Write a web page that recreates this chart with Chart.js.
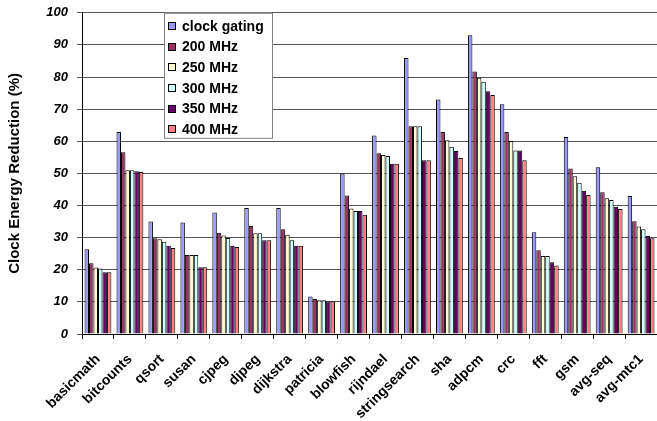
<!DOCTYPE html>
<html>
<head>
<meta charset="utf-8">
<script src="https://cdn.jsdelivr.net/npm/chart.js@4"></script>
<style>
  html, body { margin: 0; padding: 0; background: #fff; overflow: hidden; }
  #wrap { position: relative; width: 665px; height: 425px; margin-top: -4px; }
</style>
</head>
<body>
<div id="wrap"><canvas id="energyChart"></canvas></div>
<script>
// benchmarks on the x axis
const benchmarks = ['basicmath', 'bitcounts', 'qsort', 'susan', 'cjpeg', 'djpeg', 'dijkstra', 'patricia',
  'blowfish', 'rijndael', 'stringsearch', 'sha', 'adpcm', 'crc', 'fft', 'gsm', 'avg-seq', 'avg-mtc1'];

// clock energy reduction (%) per series
const clockGating = [26.4, 62.9, 35.0, 34.7, 37.8, 39.2, 39.2, 11.7, 50.0, 61.8, 85.9, 73.0, 93.0, 71.5, 31.7, 61.3, 51.9, 43.0];
const mhz200 = [22.0, 56.6, 29.8, 24.6, 31.5, 33.6, 32.6, 10.9, 43.1, 56.3, 64.7, 62.9, 81.7, 62.9, 26.1, 51.5, 44.1, 35.1];
const mhz250 = [20.7, 51.0, 29.5, 24.6, 30.7, 31.4, 30.9, 10.5, 39.1, 55.7, 64.7, 60.3, 79.8, 60.1, 24.3, 49.1, 42.3, 33.5];
const mhz300 = [20.4, 51.0, 28.7, 24.6, 29.9, 31.4, 29.2, 10.5, 38.3, 55.4, 64.7, 58.3, 78.5, 57.1, 24.3, 47.1, 41.7, 32.6];
const mhz350 = [19.2, 50.7, 27.5, 20.8, 27.5, 29.2, 27.5, 10.1, 38.3, 53.0, 54.1, 57.0, 75.6, 57.1, 22.3, 44.6, 39.6, 30.5];
const mhz400 = [19.2, 50.4, 26.8, 20.8, 27.1, 29.2, 27.5, 10.1, 37.1, 53.0, 54.1, 54.8, 74.4, 54.1, 21.3, 43.3, 38.9, 29.8];

const yTicks = [0, 10, 20, 30, 40, 50, 60, 70, 80, 90, 100];

const FONT = 'Arial, "Liberation Sans", sans-serif';

// legend box drawn inside the plot, like the original spreadsheet chart
const boxLegend = {
  id: 'boxLegend',
  afterDraw(chart) {
    const ctx = chart.ctx;
    const x = 164, y = chart.chartArea.top, w = 108, h = 125;
    ctx.save();
    ctx.fillStyle = '#fff';
    ctx.fillRect(x, y, w, h);
    ctx.strokeStyle = '#808080';
    ctx.lineWidth = 1;
    ctx.strokeRect(x + 0.5, y + 0.5, w, h);
    ctx.font = 'bold 14px ' + FONT;
    ctx.textBaseline = 'middle';
    chart.data.datasets.forEach((ds, i) => {
      const cy = y + 13 + i * 20.7;
      ctx.fillStyle = ds.backgroundColor;
      ctx.fillRect(x + 4, Math.round(cy - 4), 7, 7);
      ctx.strokeStyle = '#000';
      ctx.strokeRect(x + 4.5, Math.round(cy - 4) + 0.5, 7, 7);
      ctx.fillStyle = '#000';
      ctx.fillText(ds.label, x + 18, cy + 1);
    });
    ctx.restore();
  }
};

const series = [
  ['clock gating', clockGating, '#9999FF'],
  ['200 MHz', mhz200, '#993366'],
  ['250 MHz', mhz250, '#FFFFCC'],
  ['300 MHz', mhz300, '#CCFFFF'],
  ['350 MHz', mhz350, '#660066'],
  ['400 MHz', mhz400, '#FF8080'],
];

const ctx = document.getElementById('energyChart');
new Chart(ctx, {
  type: 'bar',
  data: {
    labels: benchmarks,
    datasets: series.map(([label, data, color]) => ({
      label: label,
      data: data,
      backgroundColor: color,
      borderColor: '#000',
      borderWidth: 1,
      barPercentage: 1.0,
      categoryPercentage: 0.84,
    })),
  },
  options: {
    responsive: true,
    maintainAspectRatio: false,
    animation: false,
    layout: { padding: { top: 8, right: 1, left: 0, bottom: 0 } },
    plugins: {
      legend: { display: false },
      tooltip: { enabled: false },
    },
    scales: {
      x: {
        grid: { drawOnChartArea: false, drawTicks: true, tickLength: 5, color: '#000' },
        border: { color: '#000', width: 1 },
        ticks: {
          color: '#000',
          font: { family: FONT, size: 14, weight: 'bold' },
          maxRotation: 45,
          minRotation: 45,
          padding: 12,
          autoSkip: false,
        },
        afterFit(scale) { scale.height = 87; },
      },
      y: {
        min: 0,
        max: 100,
        afterBuildTicks(scale) { scale.ticks = yTicks.map(v => ({ value: v })); },
        grid: { color: '#555', tickLength: 5, lineWidth: 1 },
        border: { color: '#000', width: 1 },
        ticks: {
          color: '#000',
          padding: 9,
          font: { family: FONT, size: 13, weight: 'bold', style: 'italic' },
        },
        title: {
          display: true,
          text: 'Clock Energy Reduction (%)',
          color: '#000',
          font: { family: FONT, size: 15, weight: 'bold' },
          padding: { top: 6, bottom: 0 },
        },
        afterFit(scale) { scale.width = 82; },
      },
    },
  },
  plugins: [boxLegend],
});
</script>
</body>
</html>
